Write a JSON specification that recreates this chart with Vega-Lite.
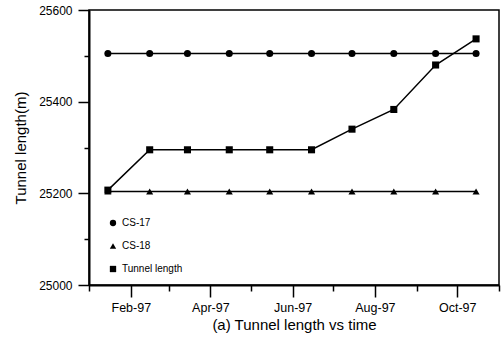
{
  "$schema": "https://vega.github.io/schema/vega-lite/v6.json",
  "width": 410,
  "height": 275,
  "autosize": {"type": "none"},
  "padding": {"left": 89, "top": 10, "right": 2, "bottom": 58},
  "background": "white",
  "config": {
    "font": "Liberation Sans",
    "view": {"stroke": "black", "strokeWidth": 1.5},
    "axis": {"grid": false, "domainColor": "black", "domainWidth": 2, "tickColor": "black", "tickWidth": 1.5, "labelColor": "black", "titleColor": "black", "labelFont": "Liberation Sans", "titleFont": "Liberation Sans", "titleFontWeight": "normal"}
  },
  "data": {
    "values": [
      {"date": "1997-01-15", "series": "CS-17", "value": 25505},
      {"date": "1997-02-15", "series": "CS-17", "value": 25505},
      {"date": "1997-03-15", "series": "CS-17", "value": 25505},
      {"date": "1997-04-15", "series": "CS-17", "value": 25505},
      {"date": "1997-05-15", "series": "CS-17", "value": 25505},
      {"date": "1997-06-15", "series": "CS-17", "value": 25505},
      {"date": "1997-07-15", "series": "CS-17", "value": 25505},
      {"date": "1997-08-15", "series": "CS-17", "value": 25505},
      {"date": "1997-09-15", "series": "CS-17", "value": 25505},
      {"date": "1997-10-15", "series": "CS-17", "value": 25505},
      {"date": "1997-01-15", "series": "CS-18", "value": 25204},
      {"date": "1997-02-15", "series": "CS-18", "value": 25204},
      {"date": "1997-03-15", "series": "CS-18", "value": 25204},
      {"date": "1997-04-15", "series": "CS-18", "value": 25204},
      {"date": "1997-05-15", "series": "CS-18", "value": 25204},
      {"date": "1997-06-15", "series": "CS-18", "value": 25204},
      {"date": "1997-07-15", "series": "CS-18", "value": 25204},
      {"date": "1997-08-15", "series": "CS-18", "value": 25204},
      {"date": "1997-09-15", "series": "CS-18", "value": 25204},
      {"date": "1997-10-15", "series": "CS-18", "value": 25204},
      {"date": "1997-01-15", "series": "Tunnel length", "value": 25207},
      {"date": "1997-02-15", "series": "Tunnel length", "value": 25295},
      {"date": "1997-03-15", "series": "Tunnel length", "value": 25295},
      {"date": "1997-04-15", "series": "Tunnel length", "value": 25295},
      {"date": "1997-05-15", "series": "Tunnel length", "value": 25295},
      {"date": "1997-06-15", "series": "Tunnel length", "value": 25295},
      {"date": "1997-07-15", "series": "Tunnel length", "value": 25340},
      {"date": "1997-08-15", "series": "Tunnel length", "value": 25383},
      {"date": "1997-09-15", "series": "Tunnel length", "value": 25480},
      {"date": "1997-10-15", "series": "Tunnel length", "value": 25537}
    ]
  },
  "encoding": {
    "x": {
      "field": "date", "type": "temporal",
      "scale": {"type": "utc", "domain": [{"year": 1997, "month": 1, "date": 1, "utc": true}, {"year": 1997, "month": 11, "date": 1, "utc": true}]},
      "axis": {
        "title": "(a) Tunnel length vs time",
        "titleFontSize": 15, "titlePadding": 4,
        "tickCount": {"interval": "month", "step": 1},
        "labelExpr": "utcmonth(datum.value) % 2 == 1 ? utcFormat(datum.value, '%b-%y') : ''",
        "labelFontSize": 12.5, "labelPadding": 4, "labelFlush": false, "labelOverlap": false,
        "tickSize": {"condition": {"test": "utcmonth(datum.value) % 2 == 1", "value": 12}, "value": 6}
      }
    },
    "y": {
      "field": "value", "type": "quantitative",
      "scale": {"domain": [25000, 25600], "nice": false, "zero": false},
      "axis": {
        "title": "Tunnel length(m)",
        "titleFontSize": 15, "titlePadding": 10,
        "values": [25000, 25100, 25200, 25300, 25400, 25500, 25600],
        "labelExpr": "datum.value % 200 == 0 ? format(datum.value, 'd') : ''",
        "labelFontSize": 12, "labelPadding": 6, "labelOverlap": false,
        "tickSize": {"condition": {"test": "datum.value % 200 == 0", "value": 11}, "value": 5}
      }
    }
  },
  "layer": [
    {
      "mark": {"type": "line", "color": "black", "strokeWidth": 1.5},
      "encoding": {"detail": {"field": "series"}}
    },
    {
      "mark": {"type": "point", "filled": true, "color": "black", "opacity": 1, "size": 50},
      "encoding": {
        "shape": {
          "field": "series", "type": "nominal",
          "scale": {"domain": ["CS-17", "CS-18", "Tunnel length"], "range": ["circle", "triangle-up", "square"]},
          "legend": {
            "title": null, "orient": "none", "legendX": 19, "legendY": 208,
            "labelFontSize": 10, "labelColor": "black", "labelFont": "Liberation Sans",
            "symbolFillColor": "black", "symbolStrokeColor": "black", "symbolSize": 40,
            "symbolOpacity": 1, "rowPadding": 10, "labelOffset": 4, "padding": 0
          }
        }
      }
    }
  ]
}
